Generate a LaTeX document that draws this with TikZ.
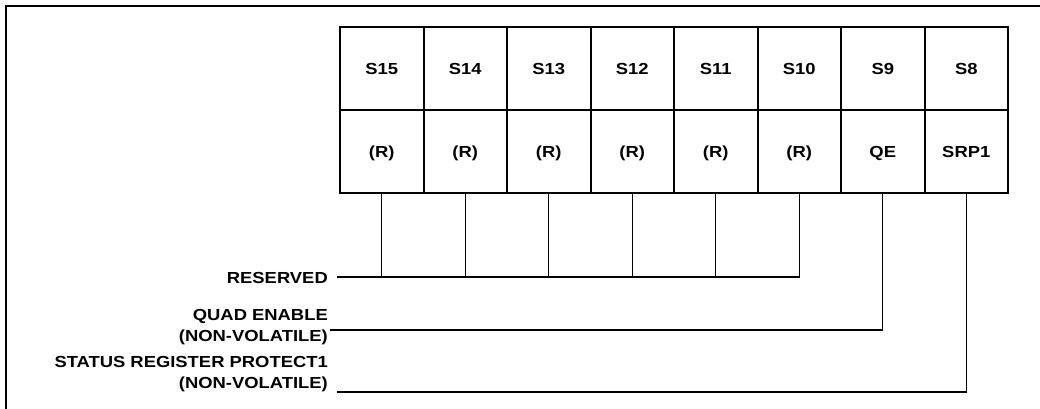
\documentclass[tikz,border=0pt]{standalone}
\usepackage{fontspec}
\setmainfont[FakeStretch=1.15]{Liberation Sans}
\usepackage{tikz}
\usetikzlibrary{positioning}

\tikzset{
  cell/.style={draw,line width=2pt,minimum width=83.5pt,minimum height=83pt,inner sep=0pt,
    outer sep=0pt,text height=11.5pt,text depth=0pt,font=\bfseries\fontsize{16}{19}\selectfont},
  lbl/.style={anchor=east,align=right,inner sep=0pt,
    font=\bfseries\fontsize{16}{21}\selectfont},
  wire/.style={line width=1.3pt}
}

\begin{document}
\begin{tikzpicture}[x=1pt,y=-1pt]
\useasboundingbox (0,0) rectangle (1040,409);
% outer frame
\draw[line width=1.5pt](5,6)--(1040,6);
\draw[line width=1.5pt](6,6)--(6,409);
% register cells
\node[cell] (s15) at (381.75,68.5) {S15};
\node[cell] (r15) at (381.75,151.5) {(R)};
\foreach \i/\j in {14/15,13/14,12/13,11/12,10/11}{
  \node[cell,right=0pt of s\j] (s\i) {S\i};
  \node[cell,right=0pt of r\j] (r\i) {(R)};
}
\node[cell,right=0pt of s10] (s9) {S9};
\node[cell,right=0pt of r10] (r9) {QE};
\node[cell,right=0pt of s9] (s8) {S8};
\node[cell,right=0pt of r9] (r8) {SRP1};
% labels
\node[lbl] (res) at (328,278) {RESERVED};
\node[lbl] (qe) at (328,327) {QUAD ENABLE\\(NON-VOLATILE)};
\node[lbl] (srp) at (328,374) {STATUS REGISTER PROTECT1\\(NON-VOLATILE)};
\coordinate (resend) at (337,277);
\coordinate (qeend) at (330,330);
\coordinate (srpend) at (337,392);
% connectors
\draw[wire](resend)--(resend-|r10.south)--(r10.south);
\foreach \i in {15,14,13,12,11}
  \draw[wire](r\i.south)--(r\i.south|-resend);
\draw[wire](qeend)--(qeend-|r9.south)--(r9.south);
\draw[wire](srpend)--(srpend-|r8.south)--(r8.south);
\end{tikzpicture}
\end{document}
